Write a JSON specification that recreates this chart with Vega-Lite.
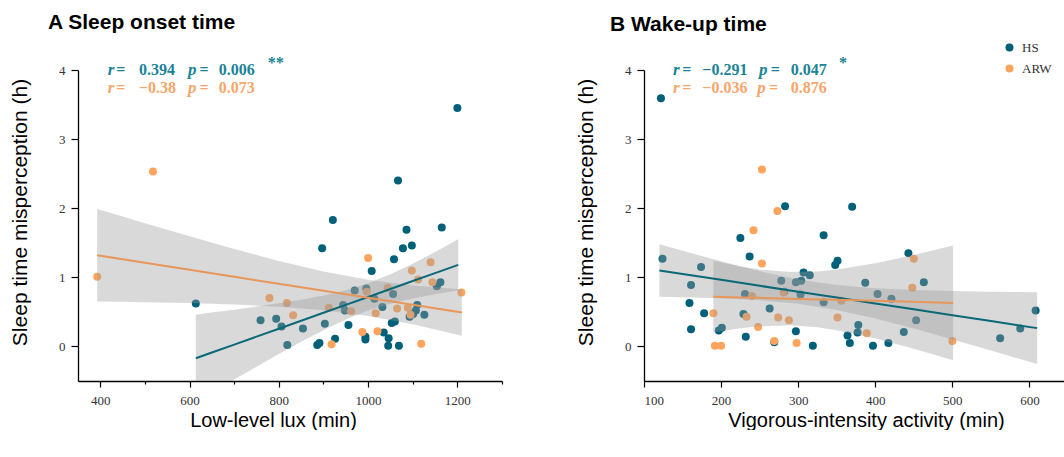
{
  "$schema": "https://vega.github.io/schema/vega-lite/v6.json",
  "background": "white",
  "padding": {"left": 9, "top": 12, "right": 0, "bottom": 0},
  "spacing": 72,
  "config": {
    "view": {"stroke": null},
    "axis": {"domainColor": "#000", "domainWidth": 1.3, "tickColor": "#000", "tickWidth": 1.2, "labelFont": "Liberation Serif", "labelFontSize": 13, "labelColor": "#333", "titleFont": "Liberation Sans", "titleFontSize": 20, "titleFontWeight": "normal", "titleColor": "#000", "grid": false},
    "title": {"font": "Liberation Sans", "fontSize": 21, "fontWeight": "bold", "anchor": "start", "color": "#000", "frame": "group"}
  },
  "resolve": {"legend": {"color": "independent"}},
  "datasets": {
    "ptsA": [
      {"group":"HS","x":1200,"y":3.45},{"group":"HS","x":1067,"y":2.40},{"group":"HS","x":921,"y":1.83},{"group":"HS","x":897,"y":1.42},{"group":"HS","x":1086,"y":1.69},{"group":"HS","x":1165,"y":1.72},{"group":"HS","x":1078,"y":1.42},{"group":"HS","x":1098,"y":1.46},{"group":"HS","x":1058,"y":1.26},{"group":"HS","x":1008,"y":1.09},{"group":"HS","x":614,"y":0.62},{"group":"HS","x":759,"y":0.38},{"group":"HS","x":794,"y":0.40},{"group":"HS","x":806,"y":0.29},{"group":"HS","x":819,"y":0.02},{"group":"HS","x":854,"y":0.26},{"group":"HS","x":886,"y":0.02},{"group":"HS","x":891,"y":0.05},{"group":"HS","x":903,"y":0.33},{"group":"HS","x":926,"y":0.11},{"group":"HS","x":944,"y":0.60},{"group":"HS","x":948,"y":0.52},{"group":"HS","x":956,"y":0.31},{"group":"HS","x":970,"y":0.81},{"group":"HS","x":996,"y":0.84},{"group":"HS","x":1056,"y":0.76},{"group":"HS","x":1014,"y":0.69},{"group":"HS","x":1032,"y":0.57},{"group":"HS","x":1162,"y":0.93},{"group":"HS","x":1154,"y":0.87},{"group":"HS","x":1110,"y":0.60},{"group":"HS","x":1107,"y":0.52},{"group":"HS","x":1101,"y":0.47},{"group":"HS","x":1093,"y":0.43},{"group":"HS","x":1126,"y":0.46},{"group":"HS","x":994,"y":0.14},{"group":"HS","x":994,"y":0.10},{"group":"HS","x":1035,"y":0.20},{"group":"HS","x":1046,"y":0.12},{"group":"HS","x":1045,"y":0.01},{"group":"HS","x":1053,"y":0.34},{"group":"HS","x":1060,"y":0.36},{"group":"HS","x":1069,"y":0.01},
      {"group":"ARW","x":393,"y":1.01},{"group":"ARW","x":518,"y":2.53},{"group":"ARW","x":779,"y":0.70},{"group":"ARW","x":818,"y":0.63},{"group":"ARW","x":832,"y":0.45},{"group":"ARW","x":912,"y":0.56},{"group":"ARW","x":918,"y":0.03},{"group":"ARW","x":962,"y":0.51},{"group":"ARW","x":987,"y":0.21},{"group":"ARW","x":997,"y":0.79},{"group":"ARW","x":1000,"y":1.28},{"group":"ARW","x":1017,"y":0.48},{"group":"ARW","x":1021,"y":0.22},{"group":"ARW","x":1044,"y":0.85},{"group":"ARW","x":1065,"y":0.55},{"group":"ARW","x":1089,"y":0.56},{"group":"ARW","x":1095,"y":0.46},{"group":"ARW","x":1098,"y":1.10},{"group":"ARW","x":1112,"y":0.97},{"group":"ARW","x":1119,"y":0.04},{"group":"ARW","x":1140,"y":1.22},{"group":"ARW","x":1144,"y":0.93},{"group":"ARW","x":1209,"y":0.78}
    ],
    "ptsB": [
      {"group":"HS","x":122,"y":3.59},{"group":"HS","x":124,"y":1.27},{"group":"HS","x":161,"y":0.89},{"group":"HS","x":159,"y":0.63},{"group":"HS","x":161,"y":0.25},{"group":"HS","x":174,"y":1.15},{"group":"HS","x":178,"y":0.48},{"group":"HS","x":197,"y":0.23},{"group":"HS","x":201,"y":0.27},{"group":"HS","x":225,"y":1.57},{"group":"HS","x":237,"y":1.30},{"group":"HS","x":231,"y":0.76},{"group":"HS","x":229,"y":0.47},{"group":"HS","x":232,"y":0.14},{"group":"HS","x":263,"y":0.55},{"group":"HS","x":269,"y":0.06},{"group":"HS","x":283,"y":2.03},{"group":"HS","x":278,"y":0.95},{"group":"HS","x":282,"y":0.79},{"group":"HS","x":297,"y":0.22},{"group":"HS","x":297,"y":0.93},{"group":"HS","x":304,"y":0.95},{"group":"HS","x":303,"y":0.75},{"group":"HS","x":307,"y":1.07},{"group":"HS","x":315,"y":1.03},{"group":"HS","x":319,"y":0.01},{"group":"HS","x":333,"y":1.61},{"group":"HS","x":333,"y":0.64},{"group":"HS","x":348,"y":1.18},{"group":"HS","x":351,"y":1.24},{"group":"HS","x":370,"y":2.02},{"group":"HS","x":364,"y":0.16},{"group":"HS","x":367,"y":0.05},{"group":"HS","x":378,"y":0.31},{"group":"HS","x":377,"y":0.20},{"group":"HS","x":387,"y":0.92},{"group":"HS","x":397,"y":0.01},{"group":"HS","x":403,"y":0.76},{"group":"HS","x":417,"y":0.05},{"group":"HS","x":421,"y":0.69},{"group":"HS","x":443,"y":1.35},{"group":"HS","x":463,"y":0.93},{"group":"HS","x":453,"y":0.38},{"group":"HS","x":437,"y":0.21},{"group":"HS","x":562,"y":0.12},{"group":"HS","x":588,"y":0.26},{"group":"HS","x":608,"y":0.52},
      {"group":"ARW","x":253,"y":2.56},{"group":"ARW","x":273,"y":1.96},{"group":"ARW","x":242,"y":1.68},{"group":"ARW","x":253,"y":1.20},{"group":"ARW","x":240,"y":0.73},{"group":"ARW","x":233,"y":0.43},{"group":"ARW","x":190,"y":0.48},{"group":"ARW","x":192,"y":0.01},{"group":"ARW","x":200,"y":0.01},{"group":"ARW","x":248,"y":0.28},{"group":"ARW","x":274,"y":0.42},{"group":"ARW","x":288,"y":0.38},{"group":"ARW","x":269,"y":0.08},{"group":"ARW","x":298,"y":0.05},{"group":"ARW","x":281,"y":0.78},{"group":"ARW","x":356,"y":0.66},{"group":"ARW","x":351,"y":0.42},{"group":"ARW","x":389,"y":0.19},{"group":"ARW","x":450,"y":1.27},{"group":"ARW","x":448,"y":0.85},{"group":"ARW","x":500,"y":0.08}
    ],
    "bandA": [
      {"group":"HS","x":614,"fit":-0.17,"lo":-0.80,"hi":0.46},{"group":"HS","x":650,"fit":-0.087,"lo":-0.664,"hi":0.49},{"group":"HS","x":700,"fit":0.027,"lo":-0.478,"hi":0.532},{"group":"HS","x":750,"fit":0.142,"lo":-0.293,"hi":0.577},{"group":"HS","x":800,"fit":0.257,"lo":-0.111,"hi":0.625},{"group":"HS","x":850,"fit":0.372,"lo":0.067,"hi":0.677},{"group":"HS","x":900,"fit":0.487,"lo":0.236,"hi":0.738},{"group":"HS","x":950,"fit":0.602,"lo":0.39,"hi":0.814},{"group":"HS","x":1000,"fit":0.716,"lo":0.519,"hi":0.913},{"group":"HS","x":1050,"fit":0.831,"lo":0.619,"hi":1.043},{"group":"HS","x":1100,"fit":0.946,"lo":0.695,"hi":1.197},{"group":"HS","x":1150,"fit":1.061,"lo":0.756,"hi":1.366},{"group":"HS","x":1202,"fit":1.18,"lo":0.81,"hi":1.55},
      {"group":"ARW","x":393,"fit":1.32,"lo":0.65,"hi":1.99},{"group":"ARW","x":450,"fit":1.262,"lo":0.645,"hi":1.879},{"group":"ARW","x":500,"fit":1.211,"lo":0.64,"hi":1.782},{"group":"ARW","x":600,"fit":1.11,"lo":0.627,"hi":1.593},{"group":"ARW","x":700,"fit":1.008,"lo":0.607,"hi":1.409},{"group":"ARW","x":800,"fit":0.906,"lo":0.575,"hi":1.237},{"group":"ARW","x":900,"fit":0.805,"lo":0.525,"hi":1.085},{"group":"ARW","x":1000,"fit":0.703,"lo":0.442,"hi":0.964},{"group":"ARW","x":1100,"fit":0.602,"lo":0.322,"hi":0.882},{"group":"ARW","x":1210,"fit":0.49,"lo":0.153,"hi":0.827}
    ],
    "bandB": [
      {"group":"HS","x":120,"fit":1.1,"lo":0.72,"hi":1.48},{"group":"HS","x":150,"fit":1.049,"lo":0.713,"hi":1.385},{"group":"HS","x":200,"fit":0.964,"lo":0.697,"hi":1.231},{"group":"HS","x":250,"fit":0.878,"lo":0.668,"hi":1.088},{"group":"HS","x":300,"fit":0.793,"lo":0.617,"hi":0.969},{"group":"HS","x":350,"fit":0.708,"lo":0.527,"hi":0.889},{"group":"HS","x":400,"fit":0.623,"lo":0.403,"hi":0.843},{"group":"HS","x":450,"fit":0.538,"lo":0.258,"hi":0.818},{"group":"HS","x":500,"fit":0.452,"lo":0.102,"hi":0.802},{"group":"HS","x":550,"fit":0.367,"lo":-0.059,"hi":0.793},{"group":"HS","x":610,"fit":0.265,"lo":-0.255,"hi":0.785},
      {"group":"ARW","x":190,"fit":0.72,"lo":0.2,"hi":1.24},{"group":"ARW","x":225,"fit":0.71,"lo":0.263,"hi":1.157},{"group":"ARW","x":250,"fit":0.703,"lo":0.293,"hi":1.113},{"group":"ARW","x":290,"fit":0.691,"lo":0.305,"hi":1.077},{"group":"ARW","x":325,"fit":0.681,"lo":0.276,"hi":1.086},{"group":"ARW","x":350,"fit":0.674,"lo":0.235,"hi":1.113},{"group":"ARW","x":400,"fit":0.66,"lo":0.116,"hi":1.204},{"group":"ARW","x":450,"fit":0.645,"lo":-0.033,"hi":1.323},{"group":"ARW","x":501,"fit":0.63,"lo":-0.2,"hi":1.46}
    ],
    "txtA": [
      {"group":"HS","part":"v","x":416.4,"y":4.0,"t":"r"},{"group":"HS","part":"n","x":435.9,"y":4.0,"t":"="},{"group":"HS","part":"n","x":486.5,"y":4.0,"t":"0.394"},{"group":"HS","part":"v","x":596.3,"y":4.0,"t":"p"},{"group":"HS","part":"n","x":622.5,"y":4.0,"t":"="},{"group":"HS","part":"n","x":665.1,"y":4.0,"t":"0.006"},{"group":"HS","part":"n","x":774.9,"y":4.1,"t":"**"},
      {"group":"ARW","part":"v","x":416.4,"y":3.74,"t":"r"},{"group":"ARW","part":"n","x":435.9,"y":3.74,"t":"="},{"group":"ARW","part":"n","x":486.5,"y":3.74,"t":"−0.38"},{"group":"ARW","part":"v","x":596.3,"y":3.74,"t":"p"},{"group":"ARW","part":"n","x":622.5,"y":3.74,"t":"="},{"group":"ARW","part":"n","x":665.1,"y":3.74,"t":"0.073"}
    ],
    "txtB": [
      {"group":"HS","part":"v","x":137.6,"y":4.0,"t":"r"},{"group":"HS","part":"n","x":149.7,"y":4.0,"t":"="},{"group":"HS","part":"n","x":175.7,"y":4.0,"t":"−0.291"},{"group":"HS","part":"v","x":249.2,"y":4.0,"t":"p"},{"group":"HS","part":"n","x":264.4,"y":4.0,"t":"="},{"group":"HS","part":"n","x":290.4,"y":4.0,"t":"0.047"},{"group":"HS","part":"n","x":353.1,"y":4.1,"t":"*"},
      {"group":"ARW","part":"v","x":137.6,"y":3.74,"t":"r"},{"group":"ARW","part":"n","x":149.7,"y":3.74,"t":"="},{"group":"ARW","part":"n","x":175.7,"y":3.74,"t":"−0.036"},{"group":"ARW","part":"v","x":247,"y":3.74,"t":"p"},{"group":"ARW","part":"n","x":262.2,"y":3.74,"t":"="},{"group":"ARW","part":"n","x":290.4,"y":3.74,"t":"0.876"}
    ]
  },
  "hconcat": [
    {
      "width": 424,
      "height": 311,
      "title": {"text": "A Sleep onset time", "dx": -30, "offset": 22},
      "layer": [
        {
          "data": {"name": "ptsA"},
          "mark": {"type": "circle", "size": 64, "opacity": 1},
          "encoding": {
            "x": {"field": "x", "type": "quantitative", "scale": {"domain": [350, 1300], "nice": false, "zero": false},
              "axis": {"title": "Low-level lux (min)", "values": [400,500,600,700,800,900,1000,1100,1200,1300], "labelExpr": "datum.value % 200 === 0 ? '' + datum.value : ''", "tickSize": {"condition": {"test": "datum.value % 200 === 0", "value": 6}, "value": 3}, "labelPadding": 7, "titlePadding": 3, "titleX": 195}},
            "y": {"field": "y", "type": "quantitative", "scale": {"domain": [-0.5, 4], "nice": false, "zero": false},
              "axis": {"title": "Sleep time misperception (h)", "titleFontSize": 21, "values": [0,0.5,1,1.5,2,2.5,3,3.5,4], "labelExpr": "datum.value % 1 === 0 ? '' + datum.value : ''", "tickSize": {"condition": {"test": "datum.value % 1 === 0", "value": 7}, "value": 4}, "labelPadding": 6, "titlePadding": 28, "titleY": 142}},
            "color": {"field": "group", "type": "nominal", "scale": {"domain": ["HS", "ARW"], "range": ["#00607A", "#FFA45C"]}, "legend": null}
          }
        },
        {
          "data": {"name": "bandA"},
          "mark": {"type": "area", "color": "#9a9a9a", "opacity": 0.38, "clip": true},
          "encoding": {
            "x": {"field": "x", "type": "quantitative"},
            "y": {"field": "lo", "type": "quantitative"},
            "y2": {"field": "hi"},
            "detail": {"field": "group", "type": "nominal"}
          }
        },
        {
          "data": {"name": "bandA"},
          "mark": {"type": "line", "strokeWidth": 2, "clip": true},
          "encoding": {
            "x": {"field": "x", "type": "quantitative"},
            "y": {"field": "fit", "type": "quantitative"},
            "stroke": {"field": "group", "type": "nominal", "scale": {"domain": ["HS", "ARW"], "range": ["#0A6878", "#E8965A"]}, "legend": null}
          }
        },
        {
          "data": {"name": "txtA"},
          "transform": [{"filter": "datum.part === 'n'"}],
          "mark": {"type": "text", "align": "left", "baseline": "middle", "font": "Liberation Serif", "fontSize": 16, "fontWeight": "bold"},
          "encoding": {
            "x": {"field": "x", "type": "quantitative"},
            "y": {"field": "y", "type": "quantitative"},
            "text": {"field": "t"},
            "fill": {"field": "group", "type": "nominal", "scale": {"domain": ["HS", "ARW"], "range": ["#1B8397", "#F7A66B"]}, "legend": null}
          }
        },
        {
          "data": {"name": "txtA"},
          "transform": [{"filter": "datum.part === 'v'"}],
          "mark": {"type": "text", "align": "left", "baseline": "middle", "font": "Liberation Serif", "fontSize": 17, "fontStyle": "italic", "fontWeight": "bold"},
          "encoding": {
            "x": {"field": "x", "type": "quantitative"},
            "y": {"field": "y", "type": "quantitative"},
            "text": {"field": "t"},
            "fill": {"field": "group", "type": "nominal", "scale": {"domain": ["HS", "ARW"], "range": ["#1B8397", "#F7A66B"]}, "legend": null}
          }
        }
      ]
    },
    {
      "width": 424,
      "height": 311,
      "title": {"text": "B Wake-up time", "dx": -34, "offset": 6},
      "layer": [
        {
          "data": {"name": "ptsB"},
          "mark": {"type": "circle", "size": 64, "opacity": 1},
          "encoding": {
            "x": {"field": "x", "type": "quantitative", "scale": {"domain": [100, 650], "nice": false, "zero": false},
              "axis": {"title": "Vigorous-intensity activity (min)", "values": [100,150,200,250,300,350,400,450,500,550,600,650], "labelExpr": "datum.value % 100 === 0 ? '' + datum.value : ''", "tickSize": {"condition": {"test": "datum.value % 100 === 0", "value": 6}, "value": 3}, "labelPadding": 7, "titlePadding": 3, "titleX": 222}},
            "y": {"field": "y", "type": "quantitative", "scale": {"domain": [-0.5, 4], "nice": false, "zero": false},
              "axis": {"title": "Sleep time misperception (h)", "titleFontSize": 21, "values": [0,0.5,1,1.5,2,2.5,3,3.5,4], "labelExpr": "datum.value % 1 === 0 ? '' + datum.value : ''", "tickSize": {"condition": {"test": "datum.value % 1 === 0", "value": 7}, "value": 4}, "labelPadding": 6, "titlePadding": 28, "titleY": 142}},
            "color": {"field": "group", "type": "nominal", "scale": {"domain": ["HS", "ARW"], "range": ["#00607A", "#FFA45C"]},
              "legend": {"orient": "none", "legendX": 359, "legendY": -29, "title": null, "labelFont": "Liberation Serif", "labelFontSize": 13, "labelColor": "#333", "symbolType": "circle", "symbolSize": 64, "symbolOpacity": 1, "labelOffset": 6, "rowPadding": 7}}
          }
        },
        {
          "data": {"name": "bandB"},
          "mark": {"type": "area", "color": "#9a9a9a", "opacity": 0.38, "clip": true},
          "encoding": {
            "x": {"field": "x", "type": "quantitative"},
            "y": {"field": "lo", "type": "quantitative"},
            "y2": {"field": "hi"},
            "detail": {"field": "group", "type": "nominal"}
          }
        },
        {
          "data": {"name": "bandB"},
          "mark": {"type": "line", "strokeWidth": 2, "clip": true},
          "encoding": {
            "x": {"field": "x", "type": "quantitative"},
            "y": {"field": "fit", "type": "quantitative"},
            "stroke": {"field": "group", "type": "nominal", "scale": {"domain": ["HS", "ARW"], "range": ["#0A6878", "#E8965A"]}, "legend": null}
          }
        },
        {
          "data": {"name": "txtB"},
          "transform": [{"filter": "datum.part === 'n'"}],
          "mark": {"type": "text", "align": "left", "baseline": "middle", "font": "Liberation Serif", "fontSize": 16, "fontWeight": "bold"},
          "encoding": {
            "x": {"field": "x", "type": "quantitative"},
            "y": {"field": "y", "type": "quantitative"},
            "text": {"field": "t"},
            "fill": {"field": "group", "type": "nominal", "scale": {"domain": ["HS", "ARW"], "range": ["#1B8397", "#F7A66B"]}, "legend": null}
          }
        },
        {
          "data": {"name": "txtB"},
          "transform": [{"filter": "datum.part === 'v'"}],
          "mark": {"type": "text", "align": "left", "baseline": "middle", "font": "Liberation Serif", "fontSize": 17, "fontStyle": "italic", "fontWeight": "bold"},
          "encoding": {
            "x": {"field": "x", "type": "quantitative"},
            "y": {"field": "y", "type": "quantitative"},
            "text": {"field": "t"},
            "fill": {"field": "group", "type": "nominal", "scale": {"domain": ["HS", "ARW"], "range": ["#1B8397", "#F7A66B"]}, "legend": null}
          }
        }
      ]
    }
  ]
}
